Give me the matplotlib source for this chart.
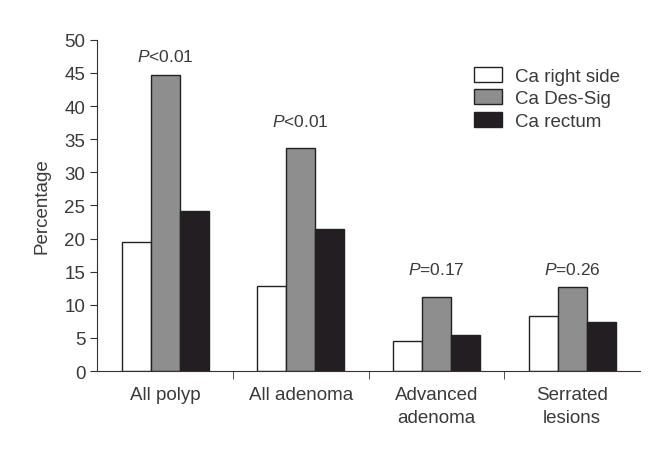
import matplotlib.pyplot as plt
import numpy as np

plt.rcParams['font.family'] = 'Liberation Sans'
plt.rcParams['mathtext.fontset'] = 'custom'
plt.rcParams['mathtext.rm'] = 'Liberation Sans'
plt.rcParams['mathtext.it'] = 'Liberation Sans:italic'

categories = ['All polyp', 'All adenoma', 'Advanced\nadenoma', 'Serrated\nlesions']
right_side = [19.5, 12.9, 4.5, 8.3]
des_sig = [44.7, 33.7, 11.2, 12.7]
rectum = [24.2, 21.4, 5.4, 7.4]
p_labels = ['<0.01', '<0.01', '=0.17', '=0.26']
p_heights = [46.3, 36.6, 14.2, 14.2]

txt = '#3a3a3a'
fig = plt.figure(figsize=(6.57, 4.64), dpi=100)
ax = fig.add_axes([0.148, 0.198, 0.826, 0.714])

x = np.arange(len(categories))
w = 0.214
ax.bar(x - w, right_side, w, color='white', edgecolor='#222222', linewidth=1, label='Ca right side')
ax.bar(x, des_sig, w, color='#8e8e8e', edgecolor='#222222', linewidth=1, label='Ca Des-Sig')
ax.bar(x + w, rectum, w, color='#221e21', edgecolor='#222222', linewidth=1, label='Ca rectum')

# P-values above each group
for xi, lab, h in zip(x, p_labels, p_heights):
    ax.text(xi, h, '$\\it{P}$' + lab, ha='center', va='bottom', fontsize=12.5, color=txt)

ax.set_xlim(-0.5, 3.5)
ax.set_ylim(0, 50)
ax.set_yticks(range(0, 51, 5))
ax.set_xticks(x)
ax.set_xticklabels(categories, fontsize=13.5, color=txt, linespacing=1.45, va='top')
ax.set_xticks([0.5, 1.5, 2.5], minor=True)
ax.tick_params(axis='x', which='major', length=0, pad=11)
ax.tick_params(axis='x', which='minor', length=6, direction='out', color='#333333')
ax.tick_params(axis='y', length=5, direction='out', labelsize=13.5, labelcolor=txt, color='#333333')
ax.set_ylabel('Percentage', fontsize=13.5, color=txt, labelpad=10)

for s in ['top', 'right']:
    ax.spines[s].set_visible(False)
for s in ['left', 'bottom']:
    ax.spines[s].set_color('#333333')

ax.legend(loc='upper right', bbox_to_anchor=(0.995, 0.97), frameon=False, fontsize=13.5,
          handlelength=1.5, handleheight=0.85, labelspacing=0.25, handletextpad=0.7,
          labelcolor=txt)

plt.savefig('out.png', dpi=100)
